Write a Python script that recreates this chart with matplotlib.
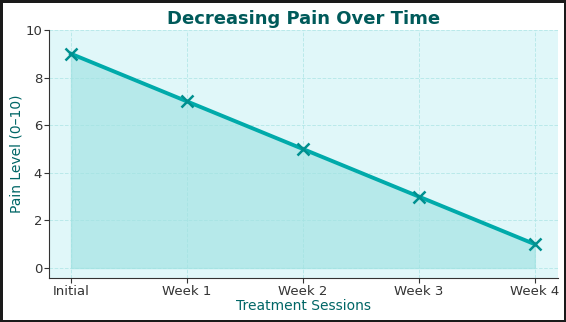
import matplotlib
matplotlib.use("Agg")
import matplotlib.pyplot as plt
import numpy as np

sessions = ["Initial", "Week 1", "Week 2", "Week 3", "Week 4"]
pain = [9, 7, 5, 3, 1]

fig = plt.figure(figsize=(5.66, 3.22), dpi=100, facecolor="white",
                 edgecolor="#1a1a1a", linewidth=2.5)
ax = fig.add_axes([49/566, 1-278/322, (558-49)/566, (278-30)/322])
x = np.arange(len(sessions))
ax.set_facecolor("#e0f7f9")
ax.fill_between(x, pain, 0, color="#a0e2e2", alpha=0.65, zorder=1)
ax.plot(x, pain, color="#00aaaa", linewidth=2.8, marker="x", markersize=8,
        markeredgewidth=1.8, markeredgecolor="#009090", zorder=3)
ax.set_xticks(x)
ax.set_xticklabels(sessions)
ax.set_xlim(-0.19, 4.2)
ax.set_ylim(-0.42, 10)
ax.set_yticks([0, 2, 4, 6, 8, 10])
ax.grid(True, linestyle="--", color="#b0e6e6", linewidth=0.7, alpha=0.8)
ax.set_axisbelow(True)
for s in ["top", "right"]:
    ax.spines[s].set_visible(False)
for s in ["left", "bottom"]:
    ax.spines[s].set_color("#333333")
ax.tick_params(colors="#333333", labelsize=9.5, labelcolor="#333333", pad=1.5)
ax.set_title("Decreasing Pain Over Time", fontsize=13, fontweight="bold",
             color="#005a5a", pad=4)
ax.set_xlabel("Treatment Sessions", fontsize=10, color="#006666", labelpad=1)
ax.set_ylabel("Pain Level (0–10)", fontsize=10, color="#006666", labelpad=1)
fig.savefig("out.png", dpi=100, facecolor="white", edgecolor=fig.get_edgecolor())
